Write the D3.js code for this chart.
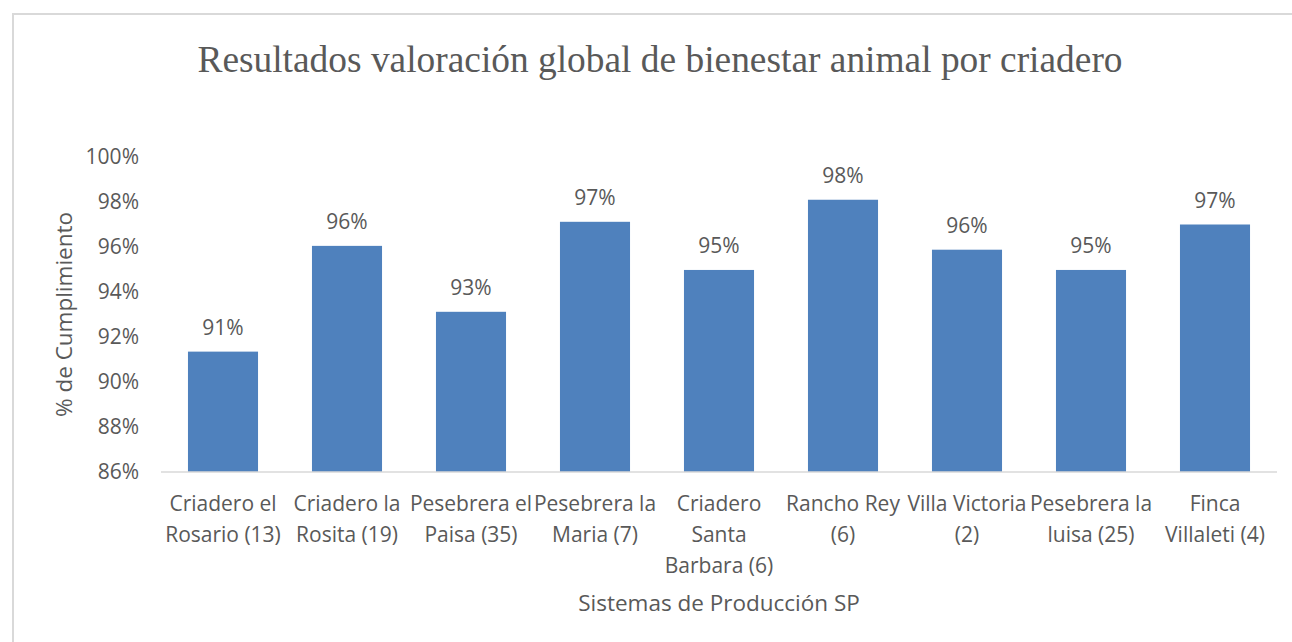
<!DOCTYPE html>
<html>
<head>
<meta charset="utf-8">
<script src="https://cdn.jsdelivr.net/npm/d3@7"></script>
<style>
  body { margin: 0; background: #fff; }
  text { fill: #595959; }
</style>
</head>
<body>
<div id="chart"></div>
<script>
var categories = [
  ["Criadero el", "Rosario (13)"],
  ["Criadero la", "Rosita (19)"],
  ["Pesebrera el", "Paisa (35)"],
  ["Pesebrera la", "Maria (7)"],
  ["Criadero", "Santa", "Barbara (6)"],
  ["Rancho Rey", "(6)"],
  ["Villa Victoria", "(2)"],
  ["Pesebrera la", "luisa (25)"],
  ["Finca", "Villaleti (4)"]
]
var values = [0.9135, 0.9605, 0.9312, 0.9712, 0.9498, 0.9810, 0.9588, 0.9498, 0.9700]
var yTicks = [0.86, 0.88, 0.90, 0.92, 0.94, 0.96, 0.98, 1.00]

var W = 1292, H = 642
var margin = {top: 157, right: 16, bottom: 170, left: 161}
var width = 1277 - margin.left
var height = 472 - margin.top
var font = "'Open Sans', sans-serif"

var root = d3.select("#chart").append("svg")
  .attr("width", W)
  .attr("height", H)

root.append("rect")
  .attr("x", 13).attr("y", 14)
  .attr("width", W).attr("height", H)
  .attr("fill", "#fff")
  .attr("stroke", "#d9d9d9")
  .attr("stroke-width", 2)

root.append("text")
  .attr("x", 660)
  .attr("y", 72)
  .attr("text-anchor", "middle")
  .style("font-family", "'Liberation Serif', 'Times New Roman', serif")
  .style("font-size", "37.4px")
  .text("Resultados valoración global de bienestar animal por criadero")

var svg = root.append("g")
  .attr("transform", "translate(" + margin.left + "," + margin.top + ")")

var x = d3.scaleBand()
  .domain(d3.range(categories.length))
  .range([0, width])
  .paddingInner(0.435)
  .paddingOuter(0.2175)

var y = d3.scaleLinear()
  .domain([0.86, 1.00])
  .range([height, 0])

var yAxis = svg.append("g")
  .call(d3.axisLeft(y).tickValues(yTicks).tickFormat(d3.format(".0%")).tickSize(0).tickPadding(22))
yAxis.select(".domain").remove()
yAxis.selectAll("text")
  .style("font-family", font)
  .style("font-size", "21px")
  .attr("fill", "#595959")

svg.append("g")
  .selectAll("rect")
  .data(values)
  .enter()
  .append("rect")
  .attr("x", function(d, i) { return x(i) })
  .attr("y", function(d) { return y(d) })
  .attr("width", x.bandwidth())
  .attr("height", function(d) { return height - y(d) })
  .attr("fill", "#4f81bd")

svg.append("line")
  .attr("x1", 0).attr("x2", width)
  .attr("y1", height).attr("y2", height)
  .attr("stroke", "#d9d9d9")
  .attr("stroke-width", 1.5)

svg.append("g")
  .selectAll("text")
  .data(values)
  .enter()
  .append("text")
  .attr("x", function(d, i) { return x(i) + x.bandwidth() / 2 })
  .attr("y", function(d) { return y(d) - 17 })
  .attr("text-anchor", "middle")
  .style("font-family", font)
  .style("font-size", "21px")
  .text(function(d) { return Math.round(d * 100) + "%" })

var xl = svg.append("g")
  .selectAll("text")
  .data(categories)
  .enter()
  .append("text")
  .attr("x", function(d, i) { return x(i) + x.bandwidth() / 2 })
  .attr("y", height + 39)
  .attr("text-anchor", "middle")
  .style("font-family", font)
  .style("font-size", "21px")
xl.selectAll("tspan")
  .data(function(d) { return d })
  .enter()
  .append("tspan")
  .attr("x", function() { return d3.select(this.parentNode).attr("x") })
  .attr("dy", function(d, i) { return i === 0 ? 0 : 31 })
  .text(function(d) { return d })

svg.append("text")
  .attr("x", width / 2)
  .attr("y", height + 139)
  .attr("text-anchor", "middle")
  .style("font-family", font)
  .style("font-size", "22.5px")
  .text("Sistemas de Producción SP")

svg.append("text")
  .attr("transform", "rotate(-90)")
  .attr("x", -height / 2)
  .attr("y", -89)
  .attr("text-anchor", "middle")
  .style("font-family", font)
  .style("font-size", "22.5px")
  .text("% de Cumplimiento")
</script>
</body>
</html>
